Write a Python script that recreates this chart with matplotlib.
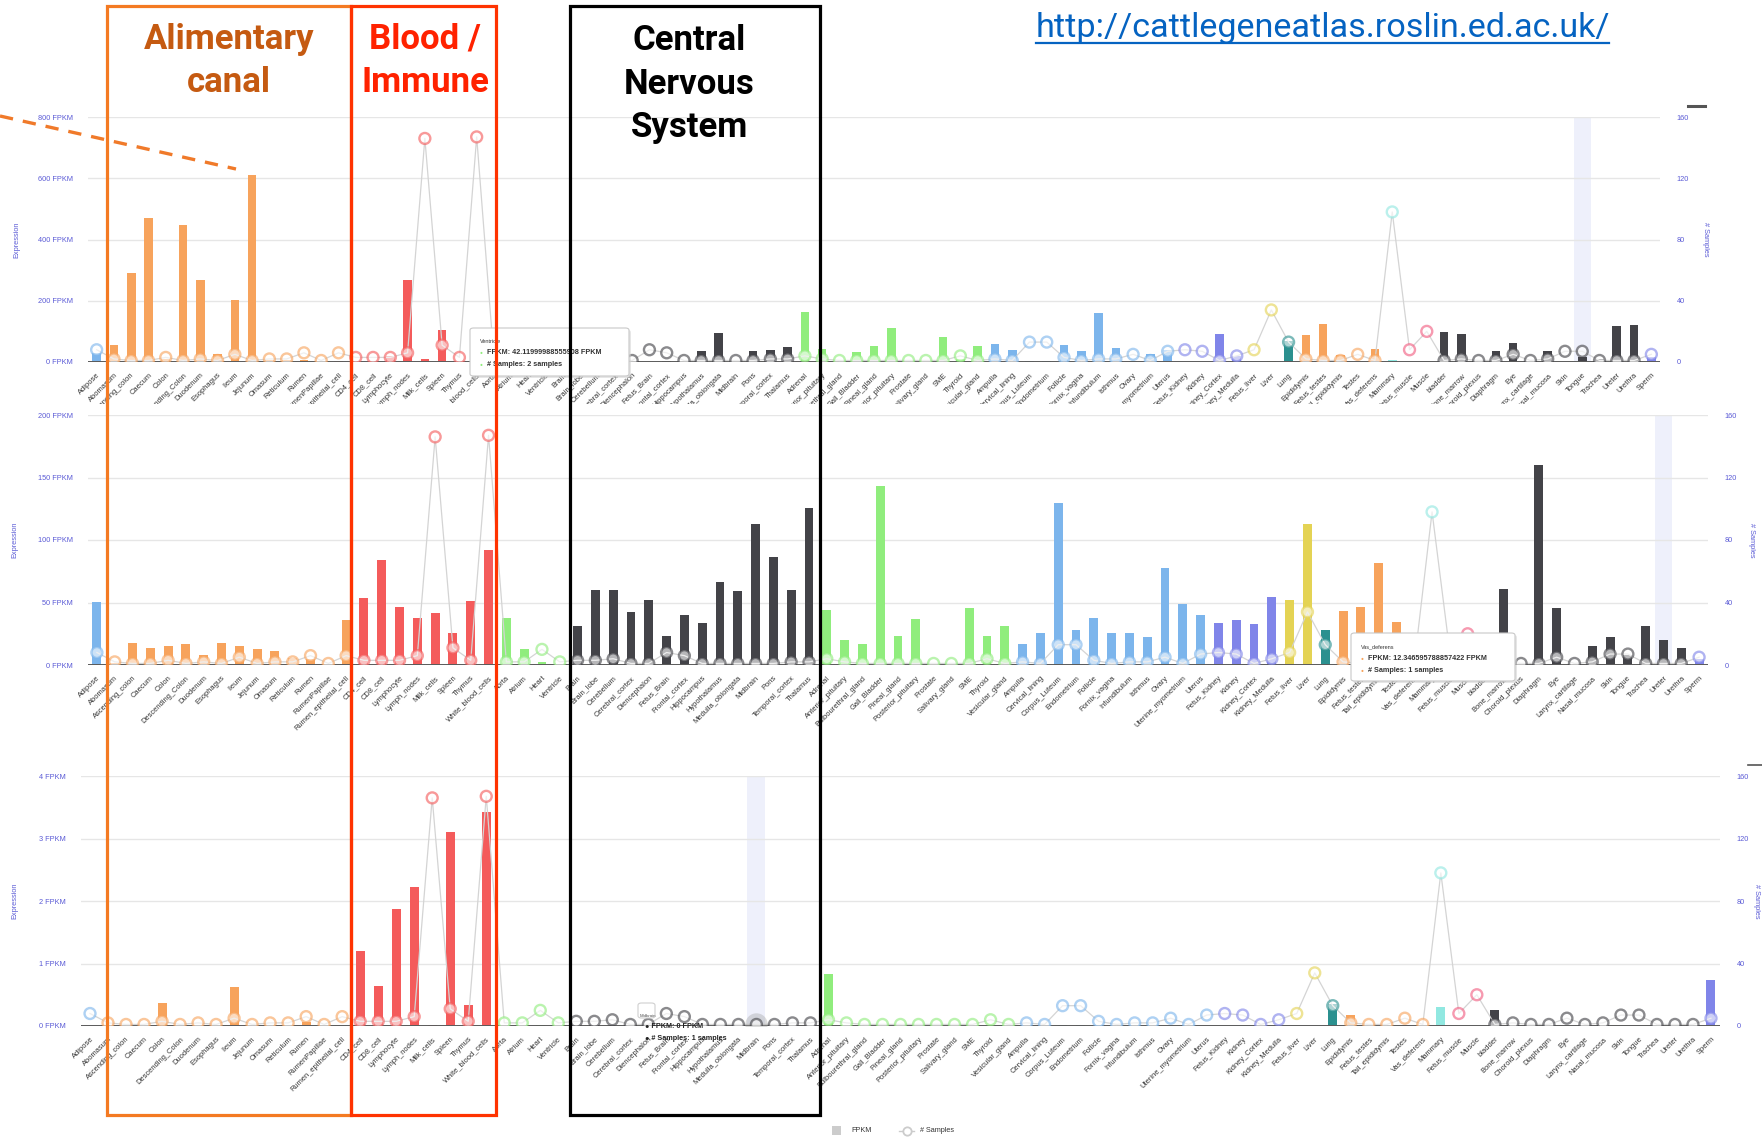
import numpy as np
import matplotlib
matplotlib.use("Agg")
import matplotlib.pyplot as plt
from matplotlib.patches import Rectangle, FancyBboxPatch
from matplotlib.lines import Line2D

# ---- data ----
tissues = [
    "Adipose", "Abomasum", "Ascending_colon", "Caecum", "Colon", "Descending_Colon",
    "Duodenum", "Esophagus", "Ileum", "Jejunum", "Omasum", "Reticulum", "Rumen",
    "RumenPapillae", "Rumen_epithelial_cell", "CD4_cell", "CD8_cell", "Lymphocyte",
    "Lymph_nodes", "Milk_cells", "Spleen", "Thymus", "White_blood_cells", "Aorta",
    "Atrium", "Heart", "Ventricle", "Brain", "Brain_lobe", "Cerebellum",
    "Cerebral_cortex", "Diencephalon", "Fetus_Brain", "Frontal_cortex", "Hippocampus",
    "Hypothalamus", "Medulla_oblongata", "Midbrain", "Pons", "Temporal_cortex",
    "Thalamus", "Adrenal", "Anterior_pituitary", "Bulbourethral_gland", "Gall_Bladder",
    "Pineal_gland", "Posterior_pituitary", "Prostate", "Salivary_gland", "SME",
    "Thyroid", "Vesicular_gland", "Ampulla", "Cervical_lining", "Corpus_Luteum",
    "Endometrium", "Follicle", "Fornix_vagina", "Infundibulum", "Isthmus", "Ovary",
    "Uterine_myometrium", "Uterus", "Fetus_Kidney", "Kidney", "Kidney_Cortex",
    "Kidney_Medulla", "Fetus_liver", "Liver", "Lung", "Epididymis", "Fetus_testes",
    "Tail_epididymis", "Testes", "Vas_deferens", "Mammary", "Fetus_muscle", "Muscle",
    "bladder", "Bone_marrow", "Choroid_plexus", "Diaphragm", "Eye", "Larynx_cartilage",
    "Nasal_mucosa", "Skin", "Tongue", "Trachea", "Ureter", "Urethra", "Sperm",
]

tissue_group = (["adipose"] + ["gut"] * 14 + ["immune"] * 8 + ["cardio"] * 4 +
                ["brain"] * 14 + ["endocrine"] * 11 + ["female"] * 11 + ["kidney"] * 4 +
                ["liver"] * 2 + ["lung"] + ["male"] * 5 + ["mammary"] + ["muscle"] * 2 +
                ["other"] * 12 + ["sperm"])

n_samples = [8, 2, 1, 1, 3, 1, 2, 1, 5, 1, 2, 2, 6, 1, 6, 3, 3, 3, 6, 146, 11, 3, 147,
             2, 2, 10, 2, 3, 3, 4, 1, 1, 8, 6, 1, 1, 1, 1, 1, 2, 2, 4, 2, 1, 1, 1, 1, 1,
             1, 1, 4, 1, 2, 1, 13, 13, 3, 1, 2, 2, 5, 1, 7, 8, 7, 1, 4, 8, 34, 13, 2, 1,
             1, 5, 1, 98, 8, 20, 1, 2, 1, 1, 5, 1, 2, 7, 7, 1, 1, 1, 5]

fpkm_top = [28, 56, 291, 471, 10, 447, 269, 25, 201, 609, 8, 5, 5, 2, 3, 3, 3, 20, 269,
            9, 106, 3, 10, 8, 5, 3, 42.12, 5, 4, 3, 2, 2, 1, 4, 1, 36, 94, 3, 36, 39,
            49, 164, 42, 1, 33, 52, 110, 1, 1, 82, 9, 52, 60, 39, 2, 2, 56, 36, 161, 45,
            3, 25, 39, 0, 0, 91, 19, 0, 4, 70, 88, 125, 23, 0, 43, 5, 0, 0, 97, 91, 0,
            36, 62, 0, 36, 0, 17, 10, 118, 121, 17]

fpkm_mid = [50.6, 2, 17.3, 13.3, 15.2, 16.5, 8.3, 17.6, 15.2, 12.5, 11.5, 5.9, 5, 1,
            36, 54, 84, 46.7, 37.3, 42, 25.3, 51, 91.7, 38, 12.5, 2.4, 1, 31.5, 60.3,
            59.7, 42.4, 52, 22.9, 39.7, 33.9, 66.4, 59.5, 113, 86.7, 59.7, 126, 44.3,
            20.3, 16.8, 143.5, 22.9, 36.8, 1, 1, 45.3, 23.5, 31.5, 16.8, 25.3, 129.3,
            28, 37.3, 25.3, 25.3, 22.1, 77.3, 48.5, 40, 33.9, 35.7, 33.1, 54.4, 52,
            113, 28, 43.5, 46.7, 81.9, 34.7, 12.35, 3, 2, 4, 15, 61, 1, 159.7, 45.9,
            1, 15.2, 22.1, 8, 31.5, 20, 13.6, 5]

fpkm_bot = [0, 0, 0, 0, 0.37, 0, 0, 0, 0.62, 0, 0, 0, 0.07, 0, 0, 1.2, 0.64, 1.88,
            2.23, 0.02, 3.11, 0.33, 3.43, 0, 0, 0.01, 0, 0, 0, 0, 0, 0, 0, 0, 0, 0, 0,
            0, 0, 0, 0, 0.84, 0, 0, 0, 0, 0, 0, 0, 0, 0, 0, 0, 0, 0.01, 0.02, 0, 0, 0,
            0, 0, 0, 0, 0, 0, 0, 0, 0, 0, 0.35, 0.17, 0, 0, 0.02, 0, 0.31, 0, 0, 0.26,
            0, 0, 0, 0, 0, 0, 0, 0, 0, 0, 0, 0.74]

group_colors = {
    "adipose": "#7cb5ec", "gut": "#f7a35c", "immune": "#f45b5b", "cardio": "#90ed7d",
    "brain": "#434348", "endocrine": "#90ed7d", "female": "#7cb5ec", "kidney": "#8085e9",
    "liver": "#e4d354", "lung": "#2b908f", "male": "#f7a35c", "mammary": "#91e8e1",
    "muscle": "#f15c80", "other": "#434348", "sperm": "#8085e9",
}
cols = [group_colors[g] for g in tissue_group]

W, H = 1762, 1138
fig = plt.figure(figsize=(W / 100, H / 100), dpi=100)
plt.rcParams['font.family'] = ['Liberation Sans', 'DejaVu Sans']

AXIS_BLUE = '#5b5bd6'


def fig_xy(px, py):
    return px / W, 1 - py / H


def panel(left, right, top, bottom, fpkm, ymax, ystep, band, z, lab_x, rlab_x):
    x0, y0 = fig_xy(left, bottom)
    ax = fig.add_axes([x0, y0, (right - left) / W, (bottom - top) / H])
    ax.set_zorder(z)
    x = np.arange(len(tissues))
    ax.set_xlim(-0.5, len(tissues) - 0.5)
    ax.set_ylim(0, ymax)
    ax.axvspan(band - 0.5, band + 0.5, color='#eef0fb', zorder=0.5, lw=0)
    ax.bar(x, fpkm, width=0.5, color=cols, zorder=2)
    ticks = np.arange(0, ymax + ystep / 2, ystep)
    ax.set_yticks(ticks)
    ax.set_yticklabels([f'{t:g} FPKM' for t in ticks])
    ax.grid(axis='y', color='#e6e6e6', lw=1)
    ax.set_axisbelow(True)
    for s in ax.spines.values():
        s.set_visible(False)
    ax.axhline(0, color='#5a5a5a', lw=1.4, zorder=3)
    ax.tick_params(axis='y', length=0, pad=11, labelsize=5.3, labelcolor=AXIS_BLUE)
    ax.set_xticks(x)
    ax.set_xticklabels(tissues, rotation=45, ha='right', rotation_mode='anchor',
                       fontsize=5.4, color='#333333')
    ax.tick_params(axis='x', length=0, pad=7)
    ax.set_ylabel('Expression', fontsize=5.3, color=AXIS_BLUE)
    ax.yaxis.set_label_coords(lab_x, 0.5)

    ax2 = ax.twinx()
    ax2.set_zorder(z + 0.1)
    ax2.set_ylim(0, 160)
    ax2.set_yticks([0, 40, 80, 120, 160])
    for s in ax2.spines.values():
        s.set_visible(False)
    ax2.tick_params(axis='y', length=0, pad=12, labelsize=5.3, labelcolor=AXIS_BLUE)
    ax2.set_ylabel('# Samples', fontsize=5.3, color=AXIS_BLUE, rotation=270, va='center')
    ax2.yaxis.set_label_coords(rlab_x, 0.5)
    ax2.plot(x, n_samples, color='#d4d4d4', lw=0.9, zorder=3)
    ax2.scatter(x, n_samples, s=62, facecolors='white', edgecolors=cols,
                linewidths=1.7, alpha=0.62, zorder=4)
    return ax, ax2


top_ax, top_ax2 = panel(88, 1660, 117, 362, fpkm_top, 800, 200, 86, 1, -0.043, 1.029)

# the middle screenshot sits on top of the lower part of the first one
fig.add_artist(Rectangle(fig_xy(0, 460), 1, 56 / H, transform=fig.transFigure,
                         facecolor='white', edgecolor='none', zorder=2))

mid_ax, mid_ax2 = panel(88, 1708, 415, 665, fpkm_mid, 200, 50, 88, 3, -0.043, 1.027)
bot_ax, bot_ax2 = panel(81, 1720, 776, 1026, fpkm_bot, 4, 1, 37, 5, -0.038, 1.022)

# hover halo on the bottom chart
bot_ax2.scatter([37], [n_samples[37]], s=260, color='#9a9a9a', alpha=0.35, zorder=3.5,
                lw=0)


# ---- tooltips ----
def tooltip(px0, py0, px1, py1, title, lines, bullet, z):
    x0, y0 = fig_xy(px0, py1)
    fig.add_artist(FancyBboxPatch((x0 + 2 / W, y0 - 2 / H), (px1 - px0) / W, (py1 - py0) / H,
                                  boxstyle='round,pad=0,rounding_size=0.002',
                                  transform=fig.transFigure, facecolor='#cfcfcf',
                                  edgecolor='none', alpha=0.5, zorder=z))
    fig.add_artist(FancyBboxPatch((x0, y0), (px1 - px0) / W, (py1 - py0) / H,
                                  boxstyle='round,pad=0,rounding_size=0.002',
                                  transform=fig.transFigure, facecolor='white',
                                  edgecolor='#c8c8c8', lw=0.8, zorder=z + 0.01))
    fig.text(*fig_xy(px0 + 10, py0 + 14), title, fontsize=4, color='#333333',
             zorder=z + 0.02, va='center')
    for i, txt in enumerate(lines):
        yy = py0 + 25 + i * 12
        fig.text(*fig_xy(px0 + 10, yy), '\u25cf', fontsize=3.5, color=bullet,
                 zorder=z + 0.02, va='center')
        fig.text(*fig_xy(px0 + 17, yy), txt, fontsize=5.2, color='#333333',
                 zorder=z + 0.02, va='center', weight='bold')


tooltip(470, 328, 629, 376, 'Ventricle',
        ['FPKM: 42.11999988555908 FPKM', '# Samples: 2 samples'], '#90ed7d', 2.5)
tooltip(1351, 633, 1515, 681, 'Vas_deferens',
        ['FPKM: 12.346595788857422 FPKM', '# Samples: 1 samples'], '#f7a35c', 4.5)

# small glitchy tooltip on the bottom chart
fig.add_artist(FancyBboxPatch(fig_xy(638, 1018), 17 / W, 15 / H,
                              boxstyle='round,pad=0,rounding_size=0.002',
                              transform=fig.transFigure, facecolor='white',
                              edgecolor='#d0d0d0', lw=0.8, zorder=6.5))
fig.text(*fig_xy(640, 1016), 'Midbrain', fontsize=3.2, color='#555555', zorder=6.6,
         va='center')
fig.text(*fig_xy(645, 1026), '\u25cf FPKM: 0 FPKM', fontsize=5.2, color='#222222',
         zorder=6.6, va='center', weight='bold')
fig.text(*fig_xy(645, 1039), '\u25cf # Samples: 1 samples', fontsize=5.2,
         color='#222222', zorder=6.6, va='center', weight='bold')

# ---- legend at the very bottom ----
fig.add_artist(Rectangle(fig_xy(832, 1135), 9 / W, 9 / H, transform=fig.transFigure,
                         facecolor='#cccccc', edgecolor='none', zorder=7))
fig.text(*fig_xy(851, 1131), 'FPKM', fontsize=5.2, color='#333333', va='center', zorder=7)
fig.add_artist(Line2D([899 / W, 914 / W], [1 - 1131 / H] * 2, color='#cccccc', lw=1,
                      zorder=7))
fig.add_artist(Line2D([906.5 / W], [1 - 1131 / H], marker='o', ms=6, mfc='white',
                      mec='#cccccc', mew=1.3, zorder=7.1))
fig.text(*fig_xy(920, 1131), '# Samples', fontsize=5.2, color='#333333', va='center',
         zorder=7)

# export menu fragments
fig.add_artist(Line2D([1688 / W, 1705 / W], [1 - 106 / H] * 2, color='#555555', lw=2.2,
                      zorder=7))
fig.add_artist(Line2D([1748 / W, 1762 / W], [1 - 765 / H] * 2, color='#555555', lw=1.2,
                      zorder=7))

# ---- slide annotations ----
ZA = 20
boxes = [(107, 351, '#f47a22'), (351, 496, '#ff3300'), (570, 820, '#000000')]
for bx0, bx1, bc in boxes:
    fig.add_artist(Rectangle(fig_xy(bx0, 1115), (bx1 - bx0) / W, (1115 - 6) / H,
                             transform=fig.transFigure, fill=False, edgecolor=bc,
                             lw=2.3, zorder=ZA))

head = dict(family=['Roboto', 'DejaVu Sans'], weight='bold', fontsize=25, ha='center',
            va='center', zorder=ZA, linespacing=1.42)
fig.text(*fig_xy(229, 61), 'Alimentary\ncanal', color='#c55a11', **head)
fig.text(*fig_xy(425, 61), 'Blood /\nImmune', color='#ff2200', **head)
fig.text(*fig_xy(689, 84), 'Central\nNervous\nSystem', color='#000000', **head)

fig.add_artist(Line2D([0, 236 / W], [1 - 116 / H, 1 - 169 / H], color='#f07a2a', lw=2.4,
                      ls=(0, (4, 3)), zorder=ZA))

url = 'http://cattlegeneatlas.roslin.ed.ac.uk/'
url_txt = fig.text(*fig_xy(1036, 37), url, family=['Roboto', 'DejaVu Sans'], fontsize=24,
                   color='#0563c1', ha='left', va='baseline', zorder=ZA)
fig.canvas.draw()
bb = url_txt.get_window_extent()
url_txt.set_fontsize(24 * 573 / bb.width)
fig.add_artist(Line2D([1036 / W, 1609 / W], [1 - 43 / H] * 2, color='#0563c1', lw=1.6,
                      zorder=ZA))

fig.savefig('out.png', dpi=100, facecolor='white')
